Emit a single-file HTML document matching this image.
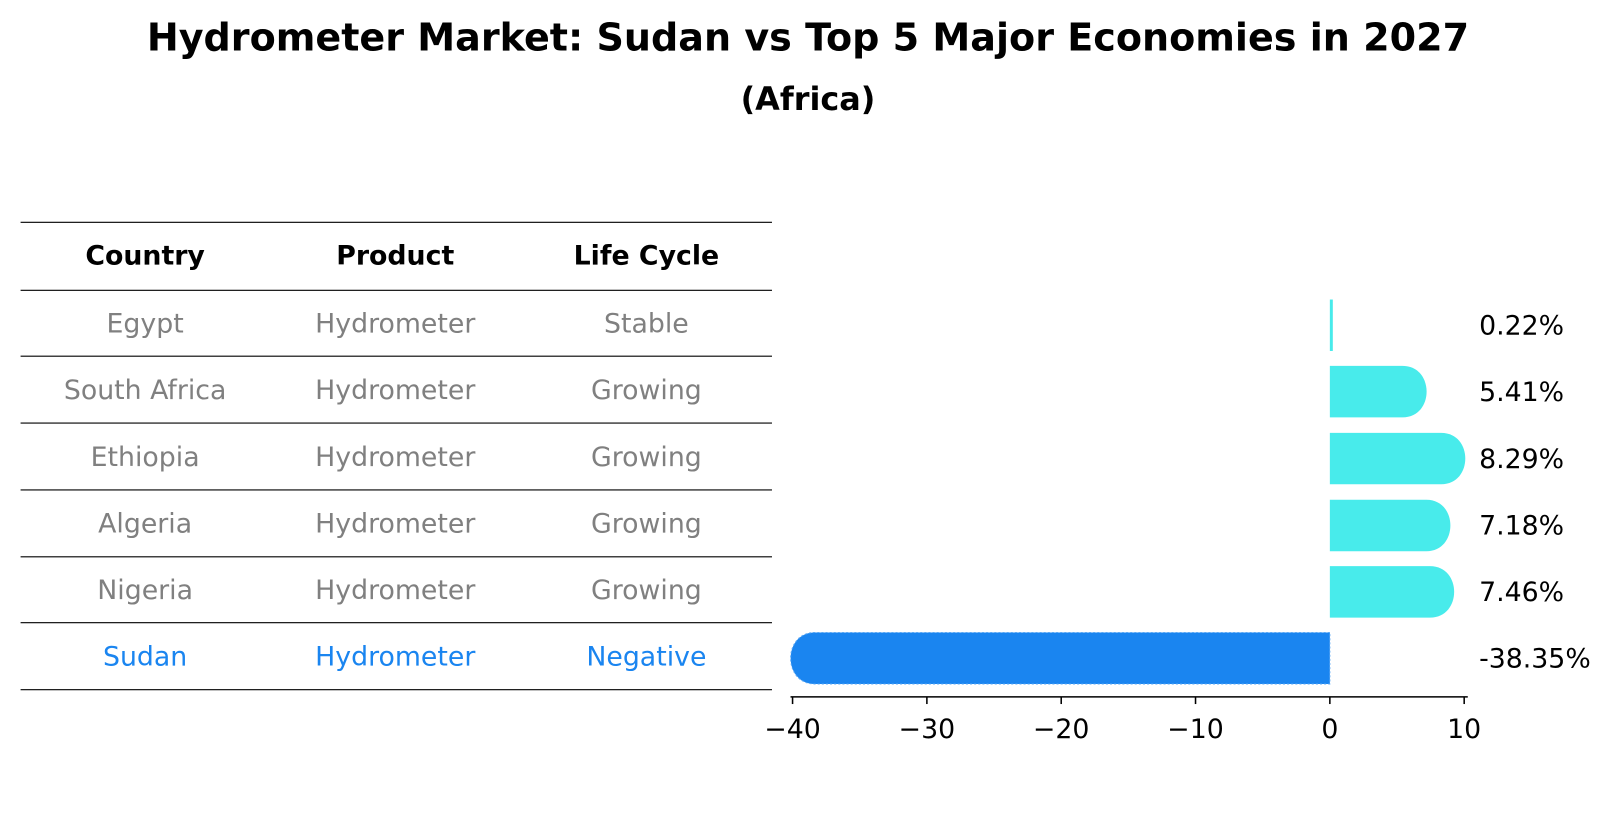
<!DOCTYPE html>
<html><head><meta charset="utf-8"><style>
body{margin:0;background:#fff;font-family:"Liberation Sans","DejaVu Sans",sans-serif}
svg text{font-family:"DejaVu Sans","Liberation Sans",sans-serif}
</style></head><body>
<svg id="c" width="1614" height="823">
<g transform="scale(1.0293)">
<text x="785" y="49" text-anchor="middle" font-size="37" font-weight="bold">Hydrometer Market: Sudan vs Top 5 Major Economies in 2027</text>
<text x="785" y="107" text-anchor="middle" font-size="31" font-weight="bold">(Africa)</text>
<g id="tbl"></g>
<g id="bars"></g>
</g>
</svg>
<script>
const countries=["Egypt","South Africa","Ethiopia","Algeria","Nigeria","Sudan"];
const products=["Hydrometer","Hydrometer","Hydrometer","Hydrometer","Hydrometer","Hydrometer"];
const lifeCycles=["Stable","Growing","Growing","Growing","Growing","Negative"];
const growth=[0.22,5.41,8.29,7.18,7.46,-38.35];
const growthLabels=["0.22%","5.41%","8.29%","7.18%","7.46%","-38.35%"];
const ticks=[-40,-30,-20,-10,0,10];
const NS="http://www.w3.org/2000/svg";
function mk(tag,attrs,parent){const e=document.createElementNS(NS,tag);for(const k in attrs)e.setAttribute(k,attrs[k]);parent.appendChild(e);return e;}
const tbl=document.getElementById('tbl'),bars=document.getElementById('bars');
const lineYs=[216,282,346,411,476,541,605,670];
lineYs.forEach(y=>{const l=mk('line',{x1:20,x2:750,y1:y,y2:y,stroke:'#000','stroke-width':1.1},tbl);

});
const colX=[141,384,628];
["Country","Product","Life Cycle"].forEach((h,i)=>{const t=mk('text',{x:colX[i],y:257,'text-anchor':'middle','font-size':26,'font-weight':'bold'},tbl);t.textContent=h;

});
countries.forEach((c,r)=>{const y=(lineYs[r+1]+lineYs[r+2])/2+9;const col=c==="Sudan"?"#1a85f0":"#808080";
[c,products[r],lifeCycles[r]].forEach((v,i)=>{const t=mk('text',{x:colX[i],y:y,'text-anchor':'middle','font-size':26,fill:col},tbl);t.textContent=v;

});});
const x0=1292,ppu=13.05;const xs=v=>x0+v*ppu;
const rowY=r=>(lineYs[r+1]+lineYs[r+2])/2+2;
const ax=mk('line',{x1:768,x2:1426,y1:677,y2:677,stroke:'#000','stroke-width':1.5},bars);


ticks.forEach(t=>{const x=xs(t);mk('line',{x1:x,x2:x,y1:677,y2:684,stroke:'#000','stroke-width':1.5},bars);
const tx=mk('text',{x:x,y:717,'text-anchor':'middle','font-size':26},bars);tx.textContent=t<0?'\u2212'+Math.abs(t):String(t);

});
growth.forEach((v,r)=>{const cy=rowY(r),h=50,top=cy-h/2,xe=xs(v);const col=v<0?'#1a85f0':'#48ebeb';let p;
if(Math.abs(v)<1){p=mk('rect',{x:x0,y:top,width:Math.max(2,Math.abs(xe-x0)),height:h,fill:col},bars);}
else{const d=v>0?1:-1,cap=24;
p=mk('path',{d:`M${x0},${top} L${xe},${top} C${xe+d*cap*1.3},${top} ${xe+d*cap*1.3},${top+h} ${xe},${top+h} L${x0},${top+h} Z`,fill:col},bars);
if(v<0){p.setAttribute('stroke','#5aa8f5');p.setAttribute('stroke-dasharray','2,2');p.setAttribute('stroke-width','1');}}


const t=mk('text',{x:1437,y:cy+9,'font-size':26},bars);t.textContent=growthLabels[r];

});
</script>
</body></html>
